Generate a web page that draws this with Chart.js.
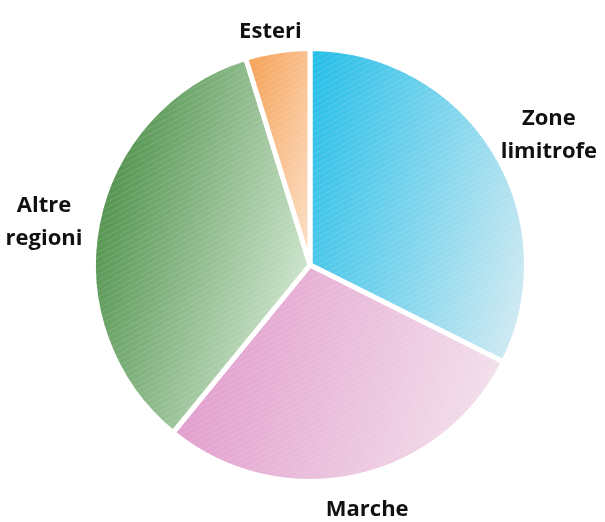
<!DOCTYPE html>
<html>
<head>
<meta charset="utf-8">
<script src="https://cdn.jsdelivr.net/npm/chart.js@4"></script>
<style>
  html, body { margin: 0; padding: 0; background: #fff; }
  #wrap { width: 605px; height: 522px; }
</style>
</head>
<body>
<div id="wrap"><canvas id="torta"></canvas></div>
<script>
// provenienza: quote percentuali
const categorie = [["Zone", "limitrofe"], "Marche", ["Altre", "regioni"], "Esteri"];
const valori = [32.4, 28.5, 34.3, 4.8];
const coloriForti = ["#22bde8", "#e29ecd", "#54944f", "#f59f52"];
const coloriChiari = ["#d0eaf2", "#f3e0ec", "#cce4cc", "#fde2cc"];

const totale = valori.reduce((a, b) => a + b, 0);

// gradiente quasi orizzontale sul riquadro di ogni spicchio
function sfumatura(context) {
  const chart = context.chart;
  const area = chart.chartArea;
  const i = context.dataIndex;
  if (!area) return coloriForti[i];
  const cx = (area.left + area.right) / 2;
  const cy = (area.top + area.bottom) / 2;
  const r = Math.min(area.right - area.left, area.bottom - area.top) / 2;
  let inizio = -Math.PI / 2;
  for (let k = 0; k < i; k++) inizio += valori[k] / totale * Math.PI * 2;
  const fine = inizio + valori[i] / totale * Math.PI * 2;
  // direzione del gradiente: verso destra, leggermente in basso
  const ux = 0.96, uy = 0.28;
  let pMin = Infinity, pMax = -Infinity;
  const punti = [[cx, cy]];
  for (let s = 0; s <= 24; s++) {
    const a = inizio + (fine - inizio) * s / 24;
    punti.push([cx + Math.cos(a) * r, cy + Math.sin(a) * r]);
  }
  punti.forEach(([x, y]) => {
    const p = (x - cx) * ux + (y - cy) * uy;
    pMin = Math.min(pMin, p);
    pMax = Math.max(pMax, p);
  });
  const g = chart.ctx.createLinearGradient(cx + ux * pMin, cy + uy * pMin, cx + ux * pMax, cy + uy * pMax);
  g.addColorStop(0, coloriForti[i]);
  g.addColorStop(1, coloriChiari[i]);
  return g;
}

// trama sottile a righe diagonali sopra la torta
const trama = {
  id: "trama",
  afterDatasetsDraw(chart) {
    const ctx = chart.ctx;
    const arc = chart.getDatasetMeta(0).data[0];
    if (!arc) return;
    const p = arc.getProps(["x", "y", "outerRadius"], true);
    const r = p.outerRadius;
    ctx.save();
    ctx.beginPath();
    ctx.arc(p.x, p.y, r, 0, Math.PI * 2);
    ctx.clip();
    ctx.translate(p.x, p.y);
    ctx.rotate(-28 * Math.PI / 180);
    ctx.strokeStyle = "rgba(255,255,255,0.13)";
    ctx.lineWidth = 1;
    for (let d = -r - 10; d <= r + 10; d += 5) {
      ctx.beginPath();
      ctx.moveTo(-r - 10, d + 0.5);
      ctx.lineTo(r + 10, d + 0.5);
      ctx.stroke();
    }
    ctx.restore();
  }
};

// etichette esterne lungo la bisettrice di ogni spicchio
const etichetteEsterne = {
  id: "etichetteEsterne",
  afterDatasetsDraw(chart) {
    const ctx = chart.ctx;
    const meta = chart.getDatasetMeta(0);
    const lineH = 33;
    const altezzaRiga = 22;
    ctx.save();
    ctx.font = "bold 22px 'Open Sans'";
    ctx.fillStyle = "#111";
    ctx.textAlign = "center";
    ctx.textBaseline = "middle";
    meta.data.forEach((arc, i) => {
      const p = arc.getProps(["x", "y", "startAngle", "endAngle", "outerRadius"], true);
      const a = (p.startAngle + p.endAngle) / 2;
      const dx = Math.cos(a), dy = Math.sin(a);
      const righe = [].concat(chart.data.labels[i]);
      const w = Math.max(...righe.map(t => ctx.measureText(t).width));
      const h = (righe.length - 1) * lineH + altezzaRiga;
      const ax = p.x + dx * (p.outerRadius + 16);
      const ay = p.y + dy * (p.outerRadius + 16);
      const bx = ax + dx * w / 2;
      const by = ay + dy * h / 2 + 7;
      righe.forEach((t, j) => {
        ctx.fillText(t, bx, by - (righe.length - 1) * lineH / 2 + lineH * j);
      });
    });
    ctx.restore();
  }
};

new Chart(document.getElementById("torta"), {
  type: "pie",
  data: {
    labels: categorie,
    datasets: [{
      data: valori,
      backgroundColor: sfumatura,
      borderColor: "#ffffff",
      borderWidth: 5
    }]
  },
  options: {
    responsive: true,
    maintainAspectRatio: false,
    animation: false,
    layout: { padding: { left: 91, right: 76, top: 46, bottom: 38 } },
    plugins: {
      legend: { display: false },
      tooltip: { enabled: false }
    }
  },
  plugins: [trama, etichetteEsterne]
});
</script>
</body>
</html>
